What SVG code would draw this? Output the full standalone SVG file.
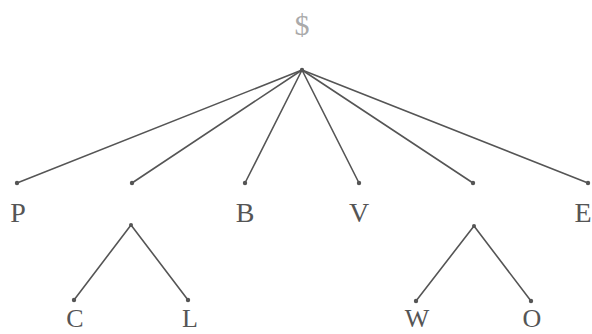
<svg xmlns="http://www.w3.org/2000/svg" width="592" height="334" viewBox="0 0 592 334">
<style>
.e{stroke:#555;stroke-width:1.6;fill:none;stroke-linecap:round}
.d{fill:#555}
.t{font-family:"Liberation Serif","Times New Roman",serif;font-size:28px;fill:#555;text-anchor:middle}
.b{font-size:26px}
.s{font-family:"Liberation Serif","Times New Roman",serif;font-size:30px;fill:#aaa;text-anchor:middle}
</style>
<rect width="592" height="334" fill="#fff"/>
<g id="connectors">
<line class="e" x1="302" y1="70" x2="17" y2="183"/>
<line class="e" x1="302" y1="70" x2="132" y2="183"/>
<line class="e" x1="302" y1="70" x2="245" y2="183"/>
<line class="e" x1="302" y1="70" x2="359" y2="183"/>
<line class="e" x1="302" y1="70" x2="473" y2="183"/>
<line class="e" x1="302" y1="70" x2="588" y2="183"/>
<line class="e" x1="131" y1="225" x2="74" y2="300"/>
<line class="e" x1="131" y1="225" x2="188" y2="300"/>
<line class="e" x1="474" y1="226" x2="416" y2="301"/>
<line class="e" x1="474" y1="226" x2="531" y2="301"/>
</g>
<g id="root"><circle class="d" cx="302" cy="70" r="2.2"/><text class="s" x="302" y="35">$</text></g>
<g id="P"><circle class="d" cx="17" cy="183" r="2.2"/><text class="t" x="18" y="222">P</text></g>
<g id="n2"><circle class="d" cx="132" cy="183" r="2.2"/></g>
<g id="B"><circle class="d" cx="245" cy="183" r="2.2"/><text class="t" x="245" y="222">B</text></g>
<g id="V"><circle class="d" cx="359" cy="183" r="2.2"/><text class="t" x="359" y="222">V</text></g>
<g id="n5"><circle class="d" cx="473" cy="183" r="2.2"/></g>
<g id="E"><circle class="d" cx="588" cy="183" r="2.2"/><text class="t" x="583" y="222">E</text></g>
<g id="sub1"><circle class="d" cx="131" cy="225" r="2"/></g>
<g id="C"><circle class="d" cx="74" cy="300" r="2.2"/><text class="t b" x="75" y="327">C</text></g>
<g id="L"><circle class="d" cx="188" cy="300" r="2.2"/><text class="t b" x="190" y="327">L</text></g>
<g id="sub2"><circle class="d" cx="474" cy="226" r="2"/></g>
<g id="W"><circle class="d" cx="416" cy="301" r="2.2"/><text class="t b" x="417" y="327">W</text></g>
<g id="O"><circle class="d" cx="531" cy="301" r="2.2"/><text class="t b" x="532" y="327">O</text></g>
</svg>
